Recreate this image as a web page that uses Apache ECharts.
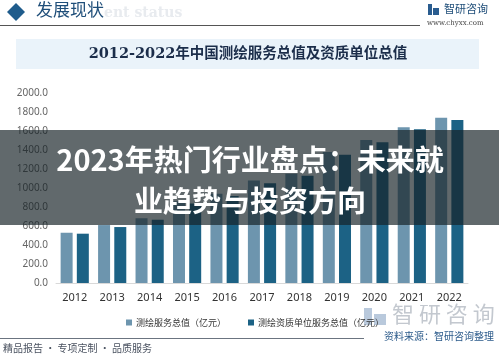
<!DOCTYPE html>
<html>
<head>
<meta charset="utf-8">
<script src="https://cdn.jsdelivr.net/npm/echarts@6/dist/echarts.min.js"></script>
<style>
html,body{margin:0;padding:0;background:#fff;}
#c{width:499px;height:357px;}
</style>
</head>
<body>
<div id="c"></div>
<script>
const categories = ['2012','2013','2014','2015','2016','2017','2018','2019','2020','2021','2022'];
const serviceValue = [529, 610, 681, 861, 940, 1080, 1150, 1380, 1505, 1639, 1740];
const qualifiedUnitValue = [519, 589, 666, 838, 915, 1050, 1130, 1350, 1481, 1618, 1716];
const yTicks = {min: 0, max: 2000, interval: 200};
const seriesNames = ['测绘服务总值（亿元）', '测绘资质单位服务总值（亿元）'];

const chart = echarts.init(document.getElementById('c'));
const cjk = '"Noto Sans CJK SC", "Noto Sans", sans-serif';
const serif = '"DejaVu Serif", "Liberation Serif", "Noto Sans CJK SC", serif';

chart.setOption({
  animation: false,
  backgroundColor: '#ffffff',
  grid: {left: 56, right: 31, top: 93, bottom: 74, containLabel: false},
  legend: {
    data: seriesNames,
    left: 121, top: 313,
    itemWidth: 6, itemHeight: 6, itemGap: 22,
    icon: 'rect',
    textStyle: {fontFamily: cjk, fontSize: 9, color: '#333', padding: [0, 0, 0, -1]}
  },
  xAxis: {
    type: 'category', data: categories,
    axisLine: {show: true, lineStyle: {color: '#d9d9d9'}},
    axisTick: {show: false},
    axisLabel: {fontFamily: '"Noto Sans", sans-serif', fontSize: 11, color: '#333', margin: 9}
  },
  yAxis: {
    type: 'value', min: yTicks.min, max: yTicks.max, interval: yTicks.interval,
    splitLine: {show: false},
    axisLine: {show: false}, axisTick: {show: false},
    axisLabel: {fontFamily: '"Noto Sans", sans-serif', fontSize: 10, color: '#666', margin: 8,
      formatter: v => v.toFixed(1)}
  },
  series: [
    {name: seriesNames[0], type: 'bar', data: serviceValue, barWidth: 12, barGap: '35%',
     itemStyle: {color: '#6d95ae'}},
    {name: seriesNames[1], type: 'bar', data: qualifiedUnitValue, barWidth: 12,
     itemStyle: {color: '#1c6285'}}
  ],
  graphic: [
    // header
    {type: 'polygon', shape: {points: [[16,3],[25,12],[16,21],[7,12]]}, style: {fill: '#1f5c8c'}, z: 10},
    {type: 'text', left: 104, top: 6, style: {text: 'ent status', font: 'bold 14px "DejaVu Serif", serif', fill: '#e8ebef'}, z: 9},
    {type: 'text', left: 36, top: 1, style: {text: '发展现状', font: '17px "Noto Sans CJK SC", serif', fill: '#1f4e79'}, z: 10},
    {type: 'line', shape: {x1: 0, y1: 25.5, x2: 420, y2: 25.5}, style: {stroke: '#555', lineWidth: 1}, z: 10},
    {type: 'rect', shape: {x: 428, y: 4, width: 4, height: 11}, style: {fill: '#2a5c8f'}, z: 10},
    {type: 'rect', shape: {x: 433, y: 8, width: 6, height: 7}, style: {fill: '#2a5c8f'}, z: 10},
    {type: 'text', left: 444, top: 3, style: {text: '智研咨询', font: '11px "Noto Sans CJK SC", sans-serif', fill: '#1f4e79'}, z: 10},
    {type: 'text', left: 427, top: 20, style: {text: 'www.chyxx.com', font: '7px "DejaVu Serif", serif', fill: '#444'}, z: 10},
    // title band
    {type: 'rect', shape: {x: 16, y: 39, width: 463, height: 30}, style: {fill: '#eaf3fa'}, z: 1},
    {type: 'text', x: 248, y: 54, style: {text: '2012-2022年中国测绘服务总值及资质单位总值', font: 'bold 14.5px ' + serif, fill: '#1b2d4a', textAlign: 'center', textVerticalAlign: 'middle'}, z: 2},
    // footer
    {type: 'line', shape: {x1: 0, y1: 338.5, x2: 364, y2: 338.5}, style: {stroke: '#6b7480', lineWidth: 1}, z: 10},
    {type: 'text', left: 3, top: 343, style: {text: '精品报告 · 专项定制 · 品质服务', font: '10px "Noto Sans CJK SC", sans-serif', fill: '#4a5260'}, z: 10},
    {type: 'rect', shape: {x: 364, y: 308, width: 8, height: 17}, style: {fill: '#b9c9dc'}, z: 4},
    {type: 'rect', shape: {x: 374, y: 314, width: 12, height: 11}, style: {fill: '#b9c9dc'}, z: 4},
    {type: 'text', left: 392, top: 303, style: {text: '智 研 咨 询', font: '22px "Noto Sans CJK SC", sans-serif', fill: '#c3c8cf'}, z: 4},
    {type: 'text', left: 384, top: 331, style: {text: '资料来源：智研咨询整理', font: '10px "Noto Sans CJK SC", sans-serif', fill: '#2b5a8a'}, z: 10},
    // overlay band
    {type: 'rect', shape: {x: 0, y: 130, width: 499, height: 95}, style: {fill: 'rgba(22,34,38,0.68)'}, z: 100},
    {type: 'text', x: 250, y: 160, style: {text: '2023年热门行业盘点：未来就', font: 'bold 29px "Noto Sans CJK SC", sans-serif', fill: '#ffffff', textAlign: 'center', textVerticalAlign: 'middle'}, z: 101},
    {type: 'text', x: 250, y: 201, style: {text: '业趋势与投资方向', font: 'bold 29px "Noto Sans CJK SC", sans-serif', fill: '#ffffff', textAlign: 'center', textVerticalAlign: 'middle'}, z: 101}
  ]
});
</script>
</body>
</html>
